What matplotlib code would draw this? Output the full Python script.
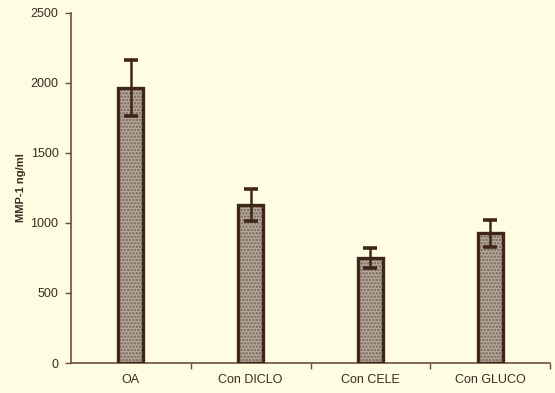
import matplotlib
matplotlib.use("Agg")
import matplotlib.pyplot as plt

categories = ["OA", "Con DICLO", "Con CELE", "Con GLUCO"]
values = [1960, 1130, 750, 925]
errors = [200, 115, 70, 95]
yticks = [0, 500, 1000, 1500, 2000, 2500]

bg = "#fefde2"
axis_col = "#6e4e3e"
edge_col = "#3f2619"
text_col = "#3a2a22"

plt.rcParams['font.family'] = ['Liberation Sans', 'DejaVu Sans']
plt.rcParams['hatch.linewidth'] = 1.2
plt.rcParams['hatch.color'] = '#6f6256'

fig = plt.figure(figsize=(5.55, 3.93), dpi=100, facecolor=bg)
ax = fig.add_axes([0.128, 0.0763, 0.863, 0.891], facecolor=bg)

x = list(range(len(categories)))
ax.bar(x, values, width=0.21, color='#b8ab9b', hatch='.....', edgecolor='#6f6256', linewidth=0, zorder=2)
ax.bar(x, values, width=0.21, fill=False, edgecolor=edge_col, linewidth=2.4, zorder=3)
ax.errorbar(x, values, yerr=errors, fmt='none', ecolor=edge_col, elinewidth=1.8, capsize=5, capthick=2.6, zorder=4)

ax.set_xlim(-0.5, 3.5)
ax.set_ylim(0, 2500)
ax.set_yticks(yticks)
ax.set_yticklabels([str(v) for v in yticks], fontsize=9, color=text_col)
ax.set_xticks(x)
ax.set_xticklabels(categories, fontsize=9, color=text_col)
ax.set_xticks([0.5, 1.5, 2.5, 3.5], minor=True)
ax.tick_params(axis='x', which='major', length=0, pad=8)
ax.tick_params(axis='x', which='minor', length=4, direction='out', color=axis_col, width=1)
ax.tick_params(axis='y', length=4, direction='out', color=axis_col, width=1, pad=5)

for s in ['top', 'right']:
    ax.spines[s].set_visible(False)
for s in ['left', 'bottom']:
    ax.spines[s].set_color(axis_col)
    ax.spines[s].set_linewidth(1.2)

ax.set_ylabel("MMP-1 ng/ml", fontsize=8, fontweight='bold', color=text_col, labelpad=3)

fig.savefig("out.png", dpi=100, facecolor=bg)
